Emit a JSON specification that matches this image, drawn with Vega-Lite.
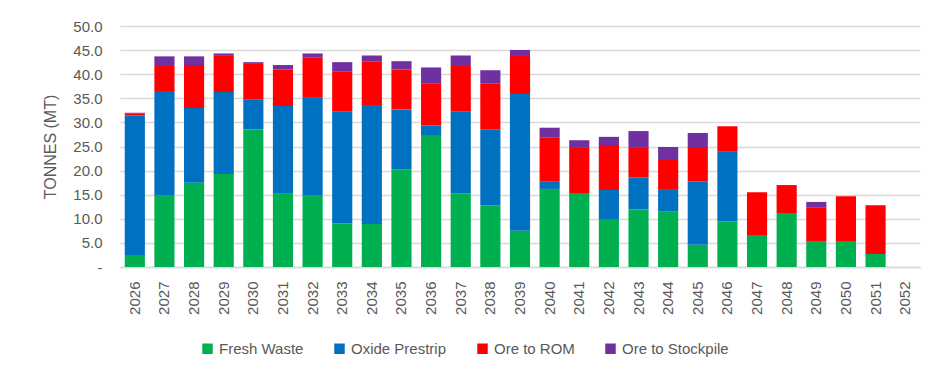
{
  "$schema": "https://vega.github.io/schema/vega-lite/v6.json",
  "autosize": "none",
  "width": 800,
  "height": 241,
  "padding": {"left": 120, "top": 26, "right": 26, "bottom": 115},
  "background": "white",
  "datasets": {
    "series": [
      {"type": "Fresh Waste", "rank": 1},
      {"type": "Oxide Prestrip", "rank": 2},
      {"type": "Ore to ROM", "rank": 3},
      {"type": "Ore to Stockpile", "rank": 4}
    ]
  },
  "data": {
    "values": [
      {"year": "2026", "type": "Fresh Waste", "t": 2.5}, {"year": "2026", "type": "Oxide Prestrip", "t": 29.0}, {"year": "2026", "type": "Ore to ROM", "t": 0.4}, {"year": "2026", "type": "Ore to Stockpile", "t": 0.1},
      {"year": "2027", "type": "Fresh Waste", "t": 14.8}, {"year": "2027", "type": "Oxide Prestrip", "t": 21.7}, {"year": "2027", "type": "Ore to ROM", "t": 5.4}, {"year": "2027", "type": "Ore to Stockpile", "t": 1.8},
      {"year": "2028", "type": "Fresh Waste", "t": 17.5}, {"year": "2028", "type": "Oxide Prestrip", "t": 15.5}, {"year": "2028", "type": "Ore to ROM", "t": 8.9}, {"year": "2028", "type": "Ore to Stockpile", "t": 1.8},
      {"year": "2029", "type": "Fresh Waste", "t": 19.3}, {"year": "2029", "type": "Oxide Prestrip", "t": 17.0}, {"year": "2029", "type": "Ore to ROM", "t": 7.5}, {"year": "2029", "type": "Ore to Stockpile", "t": 0.5},
      {"year": "2030", "type": "Fresh Waste", "t": 28.5}, {"year": "2030", "type": "Oxide Prestrip", "t": 6.2}, {"year": "2030", "type": "Ore to ROM", "t": 7.6}, {"year": "2030", "type": "Ore to Stockpile", "t": 0.2},
      {"year": "2031", "type": "Fresh Waste", "t": 15.2}, {"year": "2031", "type": "Oxide Prestrip", "t": 18.2}, {"year": "2031", "type": "Ore to ROM", "t": 7.6}, {"year": "2031", "type": "Ore to Stockpile", "t": 0.9},
      {"year": "2032", "type": "Fresh Waste", "t": 14.8}, {"year": "2032", "type": "Oxide Prestrip", "t": 20.3}, {"year": "2032", "type": "Ore to ROM", "t": 8.3}, {"year": "2032", "type": "Ore to Stockpile", "t": 0.9},
      {"year": "2033", "type": "Fresh Waste", "t": 9.1}, {"year": "2033", "type": "Oxide Prestrip", "t": 23.2}, {"year": "2033", "type": "Ore to ROM", "t": 8.2}, {"year": "2033", "type": "Ore to Stockpile", "t": 2.0},
      {"year": "2034", "type": "Fresh Waste", "t": 8.9}, {"year": "2034", "type": "Oxide Prestrip", "t": 24.7}, {"year": "2034", "type": "Ore to ROM", "t": 9.1}, {"year": "2034", "type": "Ore to Stockpile", "t": 1.2},
      {"year": "2035", "type": "Fresh Waste", "t": 20.3}, {"year": "2035", "type": "Oxide Prestrip", "t": 12.4}, {"year": "2035", "type": "Ore to ROM", "t": 8.3}, {"year": "2035", "type": "Ore to Stockpile", "t": 1.7},
      {"year": "2036", "type": "Fresh Waste", "t": 27.2}, {"year": "2036", "type": "Oxide Prestrip", "t": 2.2}, {"year": "2036", "type": "Ore to ROM", "t": 8.7}, {"year": "2036", "type": "Ore to Stockpile", "t": 3.3},
      {"year": "2037", "type": "Fresh Waste", "t": 15.3}, {"year": "2037", "type": "Oxide Prestrip", "t": 16.9}, {"year": "2037", "type": "Ore to ROM", "t": 9.5}, {"year": "2037", "type": "Ore to Stockpile", "t": 2.2},
      {"year": "2038", "type": "Fresh Waste", "t": 12.8}, {"year": "2038", "type": "Oxide Prestrip", "t": 15.8}, {"year": "2038", "type": "Ore to ROM", "t": 9.5}, {"year": "2038", "type": "Ore to Stockpile", "t": 2.7},
      {"year": "2039", "type": "Fresh Waste", "t": 7.5}, {"year": "2039", "type": "Oxide Prestrip", "t": 28.4}, {"year": "2039", "type": "Ore to ROM", "t": 7.9}, {"year": "2039", "type": "Ore to Stockpile", "t": 1.2},
      {"year": "2040", "type": "Fresh Waste", "t": 16.2}, {"year": "2040", "type": "Oxide Prestrip", "t": 1.5}, {"year": "2040", "type": "Ore to ROM", "t": 9.2}, {"year": "2040", "type": "Ore to Stockpile", "t": 2.0},
      {"year": "2041", "type": "Fresh Waste", "t": 15.2}, {"year": "2041", "type": "Ore to ROM", "t": 9.5}, {"year": "2041", "type": "Ore to Stockpile", "t": 1.6},
      {"year": "2042", "type": "Fresh Waste", "t": 9.8}, {"year": "2042", "type": "Oxide Prestrip", "t": 6.2}, {"year": "2042", "type": "Ore to ROM", "t": 9.3}, {"year": "2042", "type": "Ore to Stockpile", "t": 1.7},
      {"year": "2043", "type": "Fresh Waste", "t": 12.0}, {"year": "2043", "type": "Oxide Prestrip", "t": 6.6}, {"year": "2043", "type": "Ore to ROM", "t": 6.1}, {"year": "2043", "type": "Ore to Stockpile", "t": 3.5},
      {"year": "2044", "type": "Fresh Waste", "t": 11.5}, {"year": "2044", "type": "Oxide Prestrip", "t": 4.5}, {"year": "2044", "type": "Ore to ROM", "t": 6.4}, {"year": "2044", "type": "Ore to Stockpile", "t": 2.5},
      {"year": "2045", "type": "Fresh Waste", "t": 4.6}, {"year": "2045", "type": "Oxide Prestrip", "t": 13.1}, {"year": "2045", "type": "Ore to ROM", "t": 7.2}, {"year": "2045", "type": "Ore to Stockpile", "t": 2.9},
      {"year": "2046", "type": "Fresh Waste", "t": 9.5}, {"year": "2046", "type": "Oxide Prestrip", "t": 14.4}, {"year": "2046", "type": "Ore to ROM", "t": 5.3},
      {"year": "2047", "type": "Fresh Waste", "t": 6.5}, {"year": "2047", "type": "Ore to ROM", "t": 9.0},
      {"year": "2048", "type": "Fresh Waste", "t": 11.2}, {"year": "2048", "type": "Ore to ROM", "t": 5.8},
      {"year": "2049", "type": "Fresh Waste", "t": 5.4}, {"year": "2049", "type": "Ore to ROM", "t": 7.0}, {"year": "2049", "type": "Ore to Stockpile", "t": 1.1},
      {"year": "2050", "type": "Fresh Waste", "t": 5.4}, {"year": "2050", "type": "Ore to ROM", "t": 9.3},
      {"year": "2051", "type": "Fresh Waste", "t": 2.7}, {"year": "2051", "type": "Ore to ROM", "t": 10.1}
    ]
  },
  "transform": [
    {"lookup": "type", "from": {"data": {"name": "series"}, "key": "type", "fields": ["rank"]}}
  ],
  "mark": {"type": "bar"},
  "encoding": {
    "x": {
      "field": "year", "type": "ordinal",
      "scale": {
        "domain": ["2026","2027","2028","2029","2030","2031","2032","2033","2034","2035","2036","2037","2038","2039","2040","2041","2042","2043","2044","2045","2046","2047","2048","2049","2050","2051","2052"],
        "paddingInner": 0.32, "paddingOuter": 0.16
      },
      "axis": {
        "title": null, "labelAngle": -90, "labelAlign": "right", "labelBaseline": "middle",
        "labelPadding": 14, "ticks": false, "domainColor": "#D9D9D9", "domainWidth": 1.5,
        "labelFontSize": 15, "labelColor": "#595959", "labelFont": "Liberation Sans"
      }
    },
    "y": {
      "field": "t", "type": "quantitative", "stack": "zero",
      "scale": {"domain": [0, 50], "nice": false},
      "axis": {
        "title": "TONNES (MT)", "values": [0,5,10,15,20,25,30,35,40,45,50],
        "labelExpr": "datum.value == 0 ? '-' : format(datum.value, '.1f')",
        "domain": false, "ticks": false, "labelPadding": 18,
        "gridColor": "#D9D9D9", "gridWidth": 1.5,
        "labelFontSize": 15, "labelColor": "#595959", "labelFont": "Liberation Sans",
        "titleFontSize": 16, "titleColor": "#595959", "titleFont": "Liberation Sans", "titleFontWeight": "normal",
        "titlePadding": 14
      }
    },
    "order": {"field": "rank", "type": "quantitative", "sort": "ascending"},
    "color": {
      "field": "type", "type": "nominal",
      "scale": {
        "domain": ["Fresh Waste", "Oxide Prestrip", "Ore to ROM", "Ore to Stockpile"],
        "range": ["#00B050", "#0070C0", "#FF0000", "#7030A0"]
      },
      "legend": {
        "title": null, "orient": "none", "direction": "horizontal",
        "legendX": 80, "legendY": 315,
        "symbolType": "square", "symbolSize": 110, "symbolStrokeWidth": 0,
        "labelFontSize": 15, "labelColor": "#595959", "labelFont": "Liberation Sans",
        "columnPadding": 28, "labelOffset": 4
      }
    }
  },
  "config": {"view": {"stroke": null}}
}
